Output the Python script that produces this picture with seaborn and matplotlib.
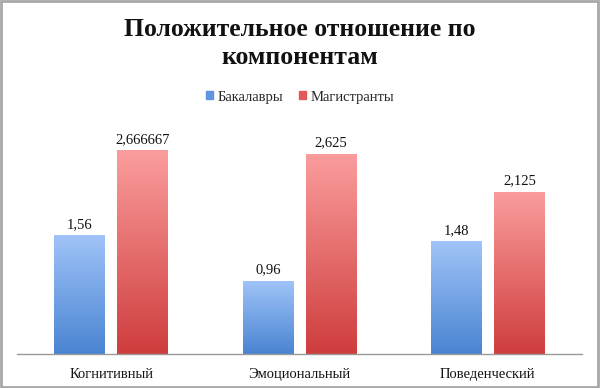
import numpy as np
import pandas as pd
import matplotlib
matplotlib.use("Agg")
import matplotlib.pyplot as plt
import seaborn as sns
from matplotlib.colors import LinearSegmentedColormap
from matplotlib.patches import Rectangle

categories = ["Когнитивный", "Эмоциональный", "Поведенческий"]
series_names = ["Бакалавры", "Магистранты"]
bachelors = [1.56, 0.96, 1.48]
masters = [2.666667, 2.625, 2.125]
bachelor_labels = ["1,56", "0,96", "1,48"]
master_labels = ["2,666667", "2,625", "2,125"]

df = pd.DataFrame({
    "cat": categories * 2,
    "series": [series_names[0]] * 3 + [series_names[1]] * 3,
    "val": bachelors + masters,
})

sns.set_theme(style="white")
plt.rcParams["font.family"] = ["Liberation Serif", "DejaVu Serif"]

fig = plt.figure(figsize=(6, 3.88), dpi=100)
fig.patch.set_facecolor("white")
ax = fig.add_axes([17 / 600, 34 / 388, 565 / 600, 229 / 388])

mid_colors = {"Бакалавры": "#5f95e0", "Магистранты": "#e05a5a"}
sns.barplot(data=df, x="cat", y="val", hue="series", order=categories,
            hue_order=series_names, palette=mid_colors, width=0.67, gap=0.2,
            ax=ax, legend=False, saturation=1)

grads = {
    0: LinearSegmentedColormap.from_list("b", ["#4a84d2", "#a0c4f8"]),
    1: LinearSegmentedColormap.from_list("r", ["#cf3d3d", "#fb9d9d"]),
}
grad = np.linspace(0, 1, 256).reshape(-1, 1)
for ci, container in enumerate(ax.containers):
    for p in container.patches:
        x0, y0 = p.get_x(), p.get_y()
        w, h = p.get_width(), p.get_height()
        p.set_edgecolor("none")
        im = ax.imshow(grad, cmap=grads[ci], extent=[x0, x0 + w, y0, y0 + h],
                       origin="lower", aspect="auto", zorder=p.get_zorder() + 0.1)
        im.set_clip_path(p)
    ax.bar_label(container, labels=[bachelor_labels, master_labels][ci],
                 padding=3, fontsize=10.5, color="#111111")

ax.set_xlim(-0.5, 2.5)
ax.set_ylim(0, 3.0)
ax.set_xlabel("")
ax.set_ylabel("")
ax.set_yticks([])
ax.tick_params(axis="x", length=0, labelsize=10.5, pad=10, colors="#111111")
for s in ["top", "right", "left"]:
    ax.spines[s].set_visible(False)
ax.spines["bottom"].set_color("#999999")
ax.spines["bottom"].set_linewidth(1)

fig.text(0.5, 1 - 29 / 388, "Положительное отношение по", ha="center", va="center",
         fontsize=18.5, fontweight="bold", color="#111111")
fig.text(0.5, 1 - 58 / 388, "компонентам", ha="center", va="center",
         fontsize=18.5, fontweight="bold", color="#111111")

handles = [Rectangle((0, 0), 1, 1, color=mid_colors[s]) for s in series_names]
fig.legend(handles, series_names, loc="center", bbox_to_anchor=(0.5, 1 - 97 / 388),
           ncol=2, frameon=False, fontsize=10.5, handlelength=0.5, handleheight=0.5,
           handletextpad=0.3, columnspacing=1.1)

border = Rectangle((0.002, 0.003), 0.995, 0.994, transform=fig.transFigure,
                   fill=False, edgecolor="#a8a8a8", linewidth=2)
fig.patches.append(border)

fig.savefig("out.png", dpi=100)
